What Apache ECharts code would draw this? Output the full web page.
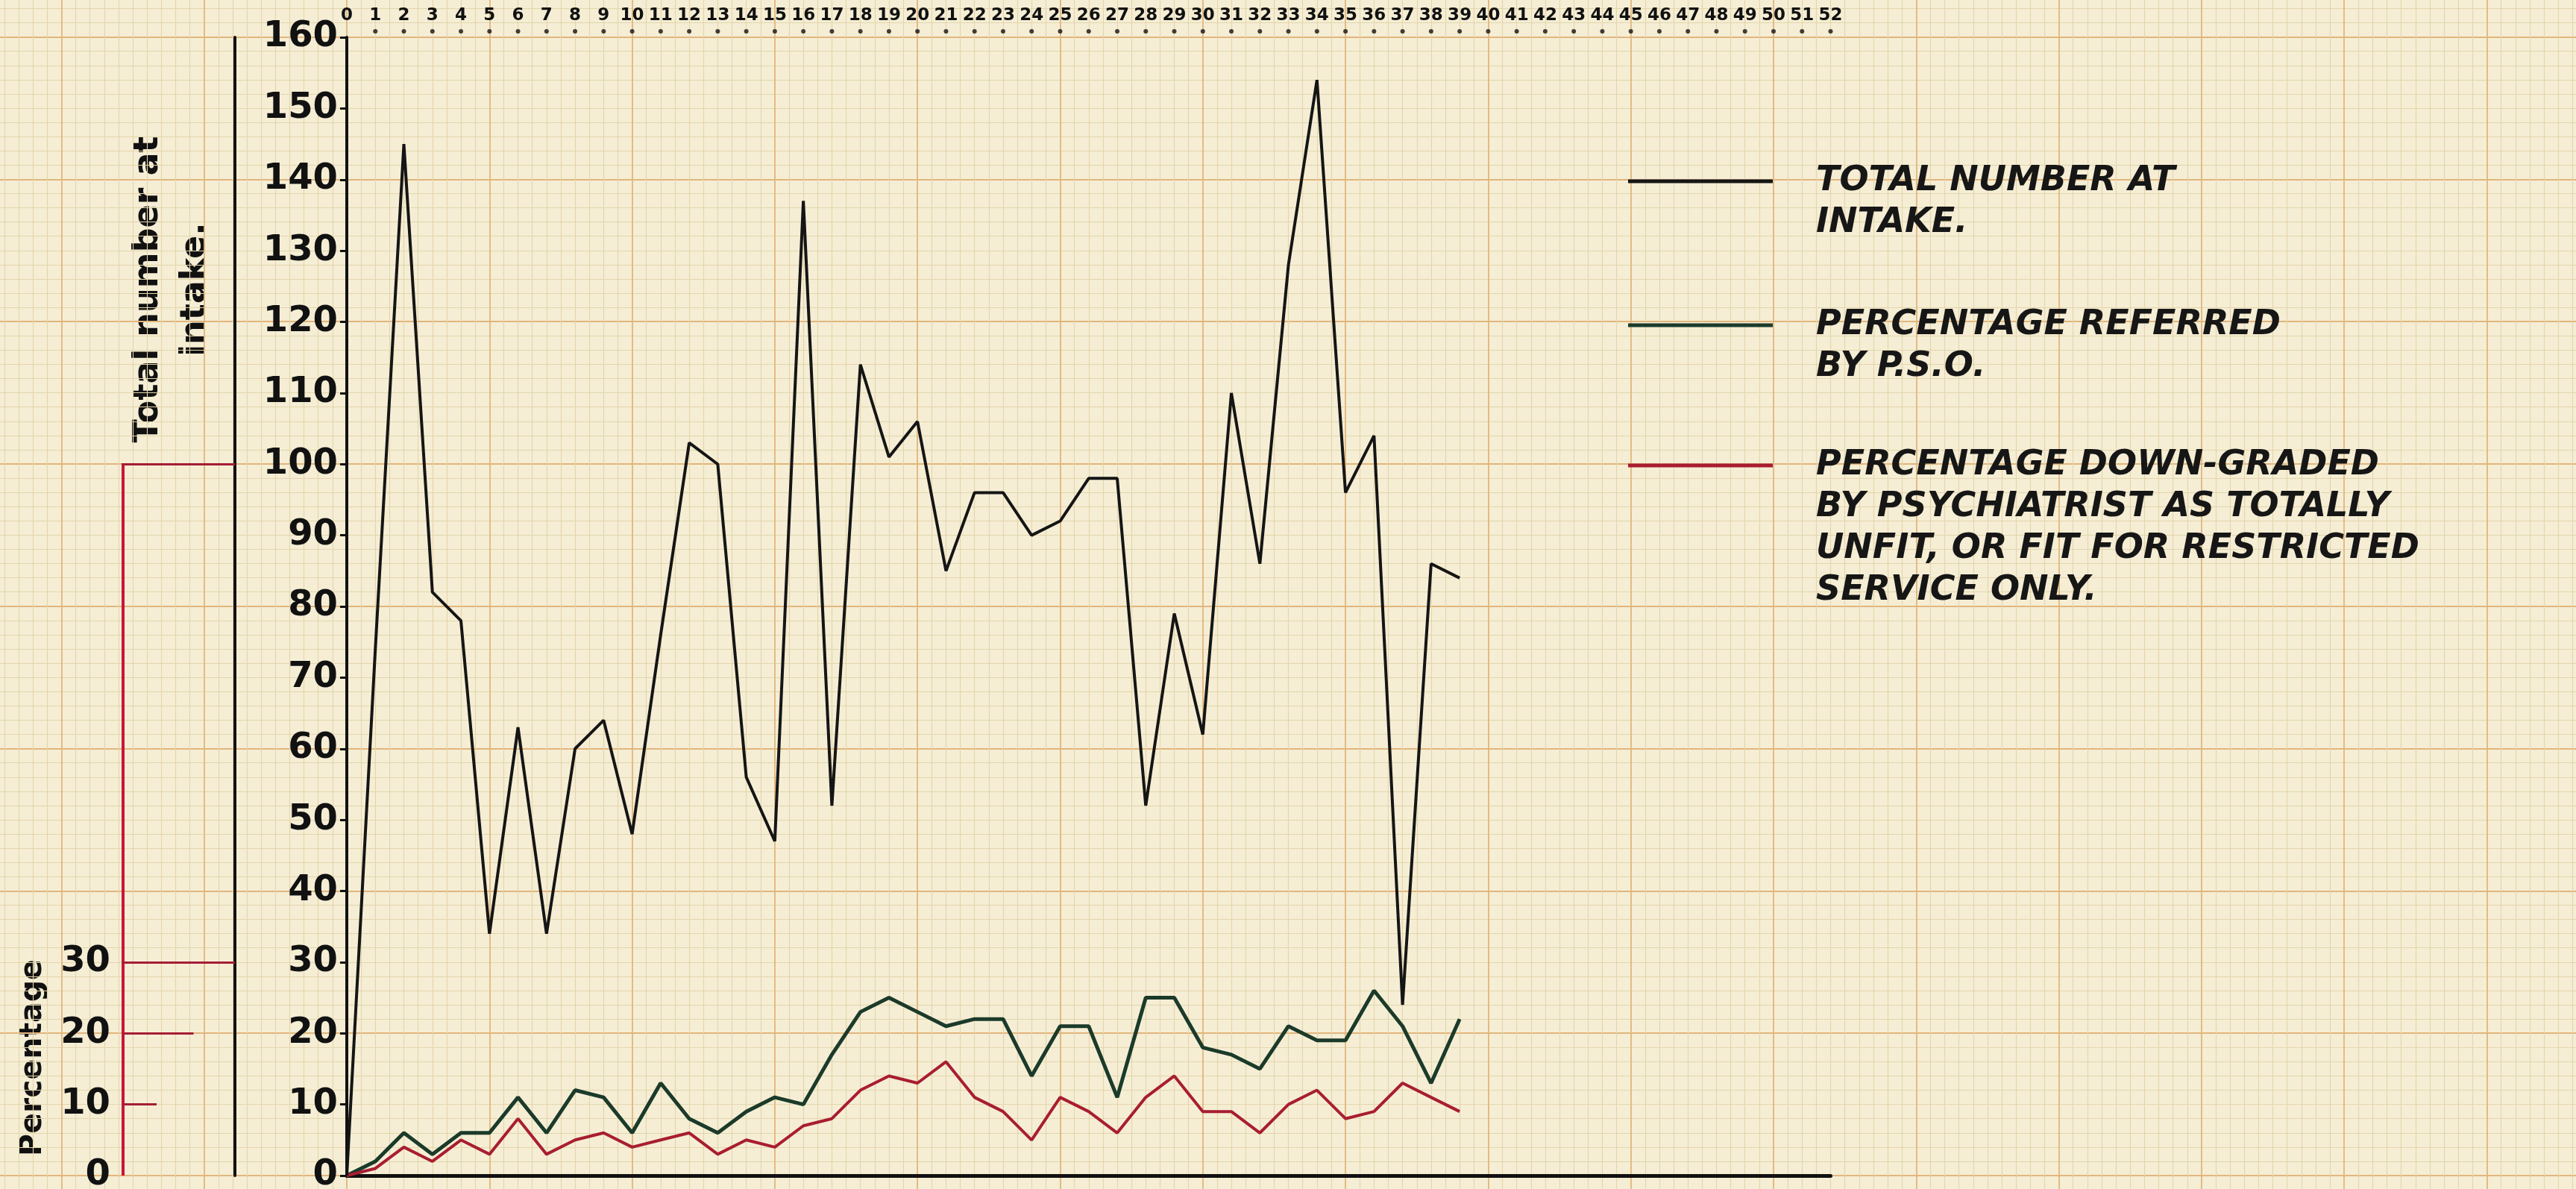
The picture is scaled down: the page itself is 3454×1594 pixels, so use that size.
<!DOCTYPE html>
<html>
<head>
<meta charset="utf-8">
<title>Total number at intake</title>
<script src="https://cdn.jsdelivr.net/npm/echarts@6.0.0/dist/echarts.min.js"></script>
<style>
  html, body { margin: 0; padding: 0; background: #f5eed5; }
  #chart { width: 3454px; height: 1594px; }
</style>
</head>
<body>
<div id="chart"></div>
<script>
// week numbers written along the top edge
const weekTicks = [0, 1, 2, 3, 4, 5, 6, 7, 8, 9, 10, 11, 12, 13, 14, 15, 16, 17, 18, 19, 20,
  21, 22, 23, 24, 25, 26, 27, 28, 29, 30, 31, 32, 33, 34, 35, 36, 37, 38, 39, 40,
  41, 42, 43, 44, 45, 46, 47, 48, 49, 50, 51, 52]

// weeks that have been plotted
const weeks = [0, 1, 2, 3, 4, 5, 6, 7, 8, 9, 10, 11, 12, 13, 14, 15, 16, 17, 18, 19,
  20, 21, 22, 23, 24, 25, 26, 27, 28, 29, 30, 31, 32, 33, 34, 35, 36, 37, 38, 39]

const totalIntake = [0, 74, 145, 82, 78, 34, 63, 34, 60, 64, 48, 76, 103, 100, 56, 47, 137, 52, 114, 101,
  106, 85, 96, 96, 90, 92, 98, 98, 52, 79, 62, 110, 86, 128, 154, 96, 104, 24, 86, 84]

const pctReferred = [0, 2, 6, 3, 6, 6, 11, 6, 12, 11, 6, 13, 8, 6, 9, 11, 10, 17, 23, 25,
  23, 21, 22, 22, 14, 21, 21, 11, 25, 25, 18, 17, 15, 21, 19, 19, 26, 21, 13, 22]

const pctDowngraded = [0, 1, 4, 2, 5, 3, 8, 3, 5, 6, 4, 5, 6, 3, 5, 4, 7, 8, 12, 14,
  13, 16, 11, 9, 5, 11, 9, 6, 11, 14, 9, 9, 6, 10, 12, 8, 9, 13, 11, 9]

// percentage key on the left
const keyLabels = [0, 10, 20, 30]
const keyLevels = [10, 20, 30, 100]
const keyStart = [0, 0, -0.04, -0.05]
const keyEnd = [0.3, 0.63, 1, 1]

const names = [
  'TOTAL NUMBER AT\nINTAKE.',
  'PERCENTAGE REFERRED\nBY P.S.O.',
  'PERCENTAGE DOWN-GRADED\nBY PSYCHIATRIST AS TOTALLY\nUNFIT, OR FIT FOR RESTRICTED\nSERVICE ONLY.'
]
const colors = ['#151515', '#1b3a2a', '#a81d31']

const FONT = '"DejaVu Sans", sans-serif'

const pairs = (vals) => weeks.map((w, i) => [w, vals[i]])

// the legend text is centred on its sample line, so blank lines in front
// push the first written line level with the sample
const legendItem = (name, top) => {
  const lines = name.split('\n').length
  return {
    data: [name],
    left: 2183,
    top: top,
    padding: 0,
    orient: 'vertical',
    icon: 'rect',
    itemWidth: 194,
    itemHeight: 5,
    selectedMode: false,
    formatter: (n) => '\n'.repeat(lines - 1) + n,
    textStyle: {
      fontFamily: FONT,
      fontSize: 46,
      fontStyle: 'italic',
      fontWeight: 'bold',
      color: '#161616',
      lineHeight: 56,
      padding: [0, 0, 0, 53]
    }
  }
}

const hidden = { show: false }
const paperBold = { show: true, lineStyle: { color: '#e2b57c', width: 1.8 } }
const paperFine = { show: true, lineStyle: { color: '#e4d5aa', width: 1.1 } }

const chart = echarts.init(document.getElementById('chart'))

const option = {
  backgroundColor: '#f5eed5',
  animation: false,
  grid: [
    // graph paper
    { left: -108.9, right: -71.8, top: -141.2, bottom: -172.8, outerBoundsMode: 'none' },
    // main plot
    { left: 465, right: 999.5, top: 50, bottom: 18, outerBoundsMode: 'none' },
    // percentage key
    { left: 165, width: 150, top: 50, bottom: 18, outerBoundsMode: 'none' }
  ],
  xAxis: [
    {
      gridIndex: 0, type: 'value', min: -15, max: 80, interval: 5,
      axisLine: hidden, axisTick: hidden, axisLabel: hidden,
      splitLine: paperBold,
      minorTick: { show: false, splitNumber: 10 },
      minorSplitLine: paperFine
    },
    {
      gridIndex: 1, type: 'value', min: 0, max: 52, position: 'bottom',
      axisLine: { show: true, lineStyle: { color: '#111', width: 5 } },
      axisTick: hidden, axisLabel: hidden, splitLine: hidden
    },
    {
      gridIndex: 1, type: 'value', min: 0, max: 52, interval: 1, position: 'top',
      axisLine: hidden, axisTick: hidden, splitLine: hidden,
      axisLabel: { fontFamily: FONT, fontSize: 23, fontWeight: 'bold', color: '#111', margin: 17 }
    },
    { gridIndex: 2, type: 'value', min: 0, max: 1, show: false }
  ],
  yAxis: [
    {
      gridIndex: 0, type: 'value', min: -20, max: 180, interval: 20,
      axisLine: hidden, axisTick: hidden, axisLabel: hidden,
      splitLine: paperBold,
      minorTick: { show: false, splitNumber: 10 },
      minorSplitLine: paperFine
    },
    {
      gridIndex: 1, type: 'value', min: 0, max: 160, interval: 10,
      axisLine: { show: true, lineStyle: { color: '#111', width: 4 } },
      axisTick: { show: true, inside: false, length: 9, lineStyle: { color: '#111', width: 3 } },
      splitLine: hidden,
      axisLabel: { fontFamily: FONT, fontSize: 48, fontWeight: 'bold', color: '#111', margin: 12 }
    },
    {
      gridIndex: 2, type: 'value', min: 0, max: 160, interval: 10, position: 'left',
      axisLine: hidden, axisTick: hidden, splitLine: hidden,
      axisLabel: {
        fontFamily: FONT, fontSize: 48, fontWeight: 'bold', color: '#111', margin: 17,
        formatter: (v) => keyLabels.includes(v) ? String(v) : ''
      }
    },
    {
      gridIndex: 2, type: 'value', min: 0, max: 160, position: 'right',
      axisLine: { show: true, lineStyle: { color: '#111', width: 4 } },
      axisTick: hidden, axisLabel: hidden, splitLine: hidden
    }
  ],
  legend: [
    legendItem(names[0], 159),
    legendItem(names[1], 352),
    legendItem(names[2], 428)
  ],
  graphic: [
    {
      type: 'text', x: 231, y: 388, rotation: Math.PI / 2,
      style: {
        text: 'Total number at\nintake.', font: 'bold 46px "DejaVu Sans"', fill: '#111',
        align: 'center', verticalAlign: 'middle', lineHeight: 63
      }
    },
    {
      type: 'text', x: 44, y: 1418, rotation: Math.PI / 2,
      style: {
        text: 'Percentage', font: 'bold 41px "DejaVu Sans"', fill: '#111',
        align: 'center', verticalAlign: 'middle'
      }
    }
  ],
  series: [
    {
      // dots under the week numbers
      type: 'scatter', xAxisIndex: 2, yAxisIndex: 1, silent: true, clip: false,
      symbolSize: 6, symbolOffset: [0, -8],
      itemStyle: { color: '#111' },
      data: weekTicks.slice(1).map(w => [w, 160])
    },
    {
      // red percentage scale
      type: 'lines', coordinateSystem: 'cartesian2d', xAxisIndex: 3, yAxisIndex: 2, silent: true,
      lineStyle: { color: '#a51d35', width: 3, opacity: 1, curveness: 0 },
      data: [{ coords: [[0, 0], [0, 100]], lineStyle: { color: '#c8163a', width: 4 } }]
        .concat(keyLevels.map((lv, i) => ({ coords: [[keyStart[i], lv], [keyEnd[i], lv]] })))
    },
    {
      name: names[0], type: 'line', xAxisIndex: 1, yAxisIndex: 1, z: 5,
      showSymbol: false, color: colors[0],
      lineStyle: { color: colors[0], width: 4 },
      data: pairs(totalIntake)
    },
    {
      name: names[1], type: 'line', xAxisIndex: 1, yAxisIndex: 1, z: 4,
      showSymbol: false, color: colors[1],
      lineStyle: { color: colors[1], width: 5 },
      data: pairs(pctReferred)
    },
    {
      name: names[2], type: 'line', xAxisIndex: 1, yAxisIndex: 1, z: 4,
      showSymbol: false, color: colors[2],
      lineStyle: { color: colors[2], width: 4 },
      data: pairs(pctDowngraded)
    }
  ]
}

chart.setOption(option)
</script>
</body>
</html>
